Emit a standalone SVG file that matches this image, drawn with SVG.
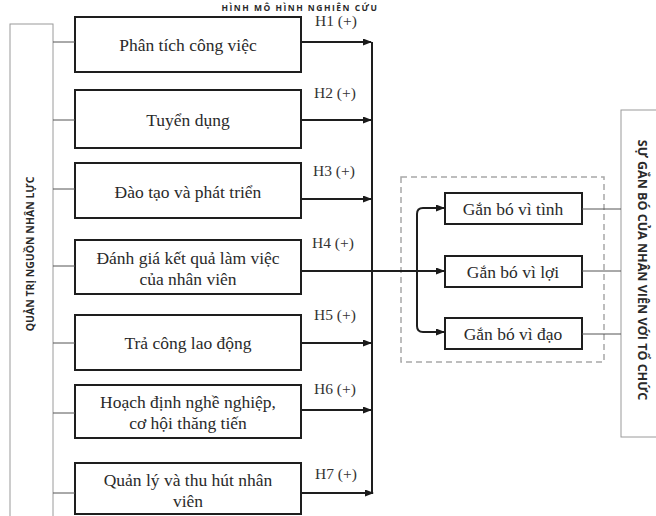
<svg xmlns="http://www.w3.org/2000/svg" width="656" height="516" viewBox="0 0 656 516">
<defs>
<marker id="ah" markerWidth="9" markerHeight="7" refX="8" refY="3.5" orient="auto" markerUnits="userSpaceOnUse">
<path d="M0,0 L9,3.5 L0,7 Z" fill="#1a1a1a"/>
</marker>
<style>
.box{fill:#fff;stroke:#1e1e1e;stroke-width:2}
.side{fill:#fff;stroke:#9a9a9a;stroke-width:1}
.t{font-family:"Liberation Serif","Times New Roman",serif;font-size:17.5px;fill:#2a2a2a;text-anchor:middle}
.h{font-family:"Liberation Serif","Times New Roman",serif;font-size:15.5px;fill:#333}
.v{font-family:"Open Sans","Noto Sans",sans-serif;font-weight:bold;fill:#2a2a2a;text-anchor:middle}
.ttl{font-family:"Open Sans","Noto Sans",sans-serif;font-size:8.5px;font-weight:bold;letter-spacing:1.5px;fill:#2a2a2a;text-anchor:middle}
.ln{fill:none;stroke:#1e1e1e;stroke-width:2}
.thin{fill:none;stroke:#555;stroke-width:1}
.dash{fill:none;stroke:#a8a8a8;stroke-width:1.5;stroke-dasharray:6,4}
</style>
</defs>
<rect width="656" height="516" fill="#fff"/>
<text class="ttl" x="300" y="10.5">HÌNH MÔ HÌNH NGHIÊN CỨU</text>

<g id="qtnnl">
<rect class="side" x="10" y="24" width="43" height="500"/>
<text class="v" font-size="10.5" transform="translate(34,254) rotate(-90)">QUẢN TRỊ NGUỒN NHÂN LỰC</text>
</g>

<g id="sgb">
<rect class="side" x="621" y="110" width="45" height="327"/>
<text class="v" font-size="12.5" transform="translate(638,270) rotate(90)">SỰ GẮN BÓ CỦA NHÂN VIÊN VỚI TỔ CHỨC</text>
</g>

<g id="n1"><rect class="box" x="75" y="17" width="226" height="55"/><text class="t" x="188" y="51">Phân tích công việc</text></g>
<g id="n2"><rect class="box" x="75" y="90" width="226" height="58"/><text class="t" x="188" y="126">Tuyển dụng</text></g>
<g id="n3"><rect class="box" x="75" y="163" width="226" height="55"/><text class="t" x="188" y="198">Đào tạo và phát triển</text></g>
<g id="n4"><rect class="box" x="75" y="240" width="226" height="54"/><text class="t" x="188" y="264">Đánh giá kết quả làm việc</text><text class="t" x="188" y="285">của nhân viên</text></g>
<g id="n5"><rect class="box" x="75" y="315" width="226" height="55"/><text class="t" x="188" y="349">Trả công lao động</text></g>
<g id="n6"><rect class="box" x="75" y="385" width="226" height="53"/><text class="t" x="188" y="408">Hoạch định nghề nghiệp,</text><text class="t" x="188" y="429">cơ hội thăng tiến</text></g>
<g id="n7"><rect class="box" x="75" y="463" width="226" height="51"/><text class="t" x="188" y="486">Quản lý và thu hút nhân</text><text class="t" x="188" y="507">viên</text></g>

<g id="g1"><rect class="box" x="445" y="193" width="137" height="31"/><text class="t" x="513" y="215">Gắn bó vì tình</text></g>
<g id="g2"><rect class="box" x="445" y="256" width="137" height="31"/><text class="t" x="513" y="278">Gắn bó vì lợi</text></g>
<g id="g3"><rect class="box" x="445" y="318" width="137" height="31"/><text class="t" x="513" y="340">Gắn bó vì đạo</text></g>

<g id="connectors">
<rect class="dash" x="401" y="177" width="203" height="185"/>
<path class="thin" d="M53 42H75M53 120H75M53 189H75M53 266H75M53 343H75M53 413H75M53 493H75"/>
<path class="thin" d="M582 209H621M582 271H621M582 334H621"/>
<path class="ln" d="M372 42V493"/>
<path class="ln" marker-end="url(#ah)" d="M301 42H371"/>
<path class="ln" marker-end="url(#ah)" d="M301 120H371"/>
<path class="ln" marker-end="url(#ah)" d="M301 199H371"/>
<path class="ln" marker-end="url(#ah)" d="M301 343H371"/>
<path class="ln" marker-end="url(#ah)" d="M301 410H371"/>
<path class="ln" marker-end="url(#ah)" d="M301 493H373"/>
<path class="ln" marker-end="url(#ah)" d="M301 271H444"/>
<path class="ln" marker-end="url(#ah)" d="M417 271V214Q417 208 423 208H444"/>
<path class="ln" marker-end="url(#ah)" d="M417 271V326Q417 332 423 332H444"/>
<text class="h" x="315" y="26">H1 (+)</text>
<text class="h" x="314" y="98">H2 (+)</text>
<text class="h" x="313" y="176">H3 (+)</text>
<text class="h" x="312" y="248">H4 (+)</text>
<text class="h" x="314" y="320">H5 (+)</text>
<text class="h" x="314" y="394">H6 (+)</text>
<text class="h" x="315" y="479">H7 (+)</text>
</g>
</svg>
